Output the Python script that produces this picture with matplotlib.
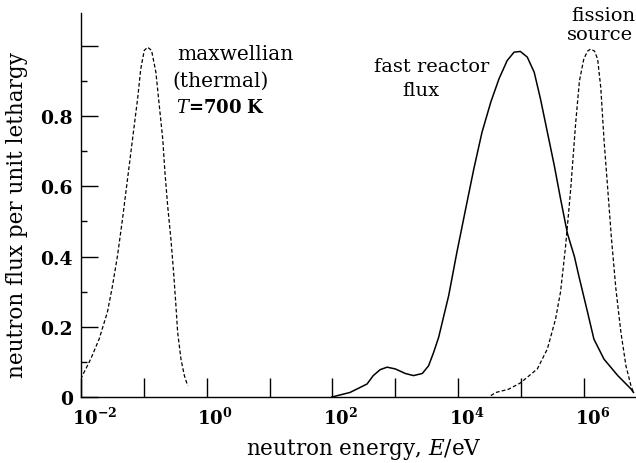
import matplotlib
matplotlib.use("Agg")
import matplotlib.pyplot as plt
from matplotlib.ticker import FixedLocator, FixedFormatter
from matplotlib.transforms import ScaledTranslation
import numpy as np

# --- data (log10 of energy in eV, flux per unit lethargy) ---
maxw_logE = [-2.006, -1.846, -1.712, -1.58, -1.50, -1.42, -1.34, -1.26, -1.18, -1.10, -1.05, -0.994,
             -0.94, -0.878, -0.809, -0.755, -0.70, -0.665, -0.622, -0.57, -0.527, -0.49, -0.463,
             -0.41, -0.356, -0.303]
maxw_flux = [0.051, 0.108, 0.165, 0.242, 0.316, 0.402, 0.507, 0.621, 0.735, 0.849, 0.934, 0.987,
             0.996, 0.987, 0.925, 0.83, 0.735, 0.64, 0.545, 0.45, 0.355, 0.26, 0.185,
             0.108, 0.061, 0.032]

fast_logE = [1.99, 2.28, 2.55, 2.65, 2.76, 2.87, 3.00, 3.16, 3.29, 3.43, 3.53, 3.61, 3.69, 3.85,
             3.98, 4.12, 4.25, 4.38, 4.52, 4.65, 4.78, 4.89, 4.99, 5.10, 5.21, 5.31, 5.42, 5.53,
             5.63, 5.74, 5.85, 5.92, 6.06, 6.16, 6.32, 6.54, 6.75, 6.79]
fast_flux = [0.0, 0.013, 0.037, 0.061, 0.078, 0.085, 0.080, 0.067, 0.061, 0.067, 0.089, 0.127, 0.170, 0.289,
             0.412, 0.536, 0.650, 0.754, 0.840, 0.906, 0.958, 0.982, 0.984, 0.968, 0.925, 0.849, 0.754, 0.659,
             0.564, 0.465, 0.400, 0.345, 0.241, 0.165, 0.108, 0.061, 0.023, 0.013]

fis_logE = [4.52, 4.60, 4.80, 4.99, 5.26, 5.42, 5.55, 5.63, 5.71, 5.79, 5.87, 5.93, 6.00, 6.06, 6.11,
            6.17, 6.22, 6.27, 6.32, 6.38, 6.44, 6.51, 6.59, 6.67, 6.75, 6.79]
fis_flux = [0.004, 0.013, 0.022, 0.040, 0.080, 0.137, 0.222, 0.300, 0.430, 0.590, 0.780, 0.900, 0.963, 0.985, 0.991,
            0.985, 0.962, 0.880, 0.735, 0.593, 0.450, 0.308, 0.184, 0.089, 0.032, 0.013]

x_ticks = [1e-2, 1e-1, 1e0, 1e1, 1e2, 1e3, 1e4, 1e5, 1e6]
x_tick_labels = [r"$\mathbf{10^{-2}}$", "", r"$\mathbf{10^{0}}$", "", r"$\mathbf{10^{2}}$", "",
                 r"$\mathbf{10^{4}}$", "", r"$\mathbf{10^{6}}$"]
y_major = [0, 0.2, 0.4, 0.6, 0.8, 1.0]
y_major_labels = ["0", "0.2", "0.4", "0.6", "0.8", ""]
y_minor = [0.1, 0.3, 0.5, 0.7, 0.9]

plt.rcParams["font.family"] = ["DejaVu Serif"]
plt.rcParams["mathtext.fontset"] = "dejavuserif"

fig = plt.figure(figsize=(6.36, 4.64), dpi=100)
ax = fig.add_axes([0.1274, 0.1422, 0.8726, 0.828])

dash = (0, (3.0, 1.8))
ax.plot(10 ** np.array(maxw_logE), maxw_flux, color="black", lw=0.9, ls=dash)
ax.plot(10 ** np.array(fast_logE), fast_flux, color="black", lw=1.1, ls="-")
ax.plot(10 ** np.array(fis_logE), fis_flux, color="black", lw=0.9, ls=dash)

ax.set_xscale("log")
ax.set_xlim(10 ** -2.0, 10 ** 6.83)
ax.set_ylim(0, 1.094)

for s in ["top", "right"]:
    ax.spines[s].set_visible(False)
for s in ["left", "bottom"]:
    ax.spines[s].set_linewidth(1.0)

ax.xaxis.set_major_locator(FixedLocator(x_ticks))
ax.xaxis.set_major_formatter(FixedFormatter(x_tick_labels))
ax.xaxis.set_minor_locator(FixedLocator([]))
ax.yaxis.set_major_locator(FixedLocator(y_major))
ax.yaxis.set_major_formatter(FixedFormatter(y_major_labels))
ax.yaxis.set_minor_locator(FixedLocator(y_minor))

ax.tick_params(axis="x", which="major", direction="in", length=14, width=1.0, labelsize=13, pad=7)
ax.tick_params(axis="y", which="major", direction="in", length=12, width=1.0, labelsize=13.5, pad=6)
ax.tick_params(axis="y", which="minor", direction="in", length=4, width=1.0)
for lab in ax.get_yticklabels():
    lab.set_fontweight("bold")

# shift x tick labels so the base "10" sits over its tick
for i, lab in enumerate(ax.get_xticklabels()):
    dx = 10 / 72 if i == 0 else 6 / 72
    lab.set_transform(lab.get_transform() + ScaledTranslation(dx, 0, fig.dpi_scale_trans))

ax.set_xlabel(r"neutron energy, $E$/eV", fontsize=15.5)
ax.set_ylabel("neutron flux per unit lethargy", fontsize=15.5)
ax.xaxis.set_label_coords(0.51, -0.135)
ax.yaxis.set_label_coords(-0.115, 0.477)
ax.yaxis.label.set_va("center")
ax.xaxis.label.set_va("center")

fig.text(177 / 636, 1 - 54 / 464, "maxwellian", fontsize=14.5, ha="left", va="center")
fig.text(172 / 636, 1 - 81 / 464, "(thermal)", fontsize=14.5, ha="left", va="center")
fig.text(176 / 636, 1 - 108 / 464, r"$\mathit{T}$=700 K", fontsize=13, ha="left", va="center",
         fontweight="bold")
fig.text(432 / 636, 1 - 67 / 464, "fast reactor", fontsize=14, ha="center", va="center")
fig.text(421 / 636, 1 - 91 / 464, "flux", fontsize=14, ha="center", va="center")
fig.text(603 / 636, 1 - 16 / 464, "fission", fontsize=14, ha="center", va="center")
fig.text(600 / 636, 1 - 35 / 464, "source", fontsize=14, ha="center", va="center")

fig.savefig("out.png", dpi=100)
